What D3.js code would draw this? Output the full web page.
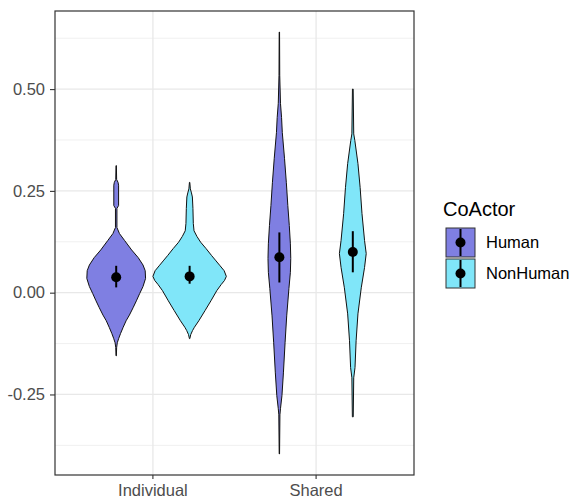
<!DOCTYPE html>
<html><head><meta charset="utf-8">
<script src="https://cdn.jsdelivr.net/npm/d3@7"></script>
<style>body{margin:0;background:#fff} svg text{font-family:"Liberation Sans",Arial,sans-serif}</style>
</head><body><svg id="c" width="574" height="502"></svg>
<script>
// ---- data ----
const categories = ["Individual", "Shared"];
const coActors = ["Human", "NonHuman"];
const fills = ["#7f7fe2", "#80e6f9"];
const yTicks = [-0.25, 0, 0.25, 0.5];
const yTickLabels = ["-0.25", "0.00", "0.25", "0.50"];
const yMinorTicks = [-0.375, -0.125, 0.125, 0.375, 0.625];

// violin profiles: [value, relative density]
const violinIndividualHuman = [
  [0.312,0.005],[0.278,0.012],[0.271,0.05],[0.264,0.065],[0.214,0.065],[0.207,0.02],
  [0.160,0.02],[0.145,0.09],[0.128,0.23],[0.105,0.42],[0.086,0.6],[0.068,0.73],
  [0.054,0.79],[0.035,0.8],[0.015,0.73],[-0.002,0.64],[-0.02,0.55],[-0.037,0.46],
  [-0.055,0.36],[-0.069,0.27],[-0.085,0.19],[-0.10,0.12],[-0.112,0.07],[-0.123,0.03],
  [-0.135,0.012],[-0.155,0.005]
];
const violinIndividualNonHuman = [
  [0.271,0.005],[0.255,0.02],[0.245,0.05],[0.235,0.075],[0.207,0.09],[0.17,0.1],
  [0.152,0.12],[0.138,0.2],[0.124,0.3],[0.108,0.45],[0.091,0.6],[0.078,0.72],
  [0.066,0.83],[0.054,0.94],[0.040,1.0],[0.030,0.95],[0.020,0.86],[0.005,0.74],
  [-0.02,0.58],[-0.044,0.42],[-0.069,0.25],[-0.085,0.13],[-0.093,0.08],[-0.103,0.03],
  [-0.113,0.005]
];
const violinSharedHuman = [
  [0.64,0.005],[0.534,0.01],[0.465,0.03],[0.43,0.06],[0.393,0.08],[0.33,0.14],
  [0.27,0.19],[0.214,0.23],[0.165,0.27],[0.12,0.3],[0.084,0.31],[0.05,0.3],
  [0.01,0.26],[-0.057,0.2],[-0.123,0.155],[-0.197,0.11],[-0.253,0.07],[-0.285,0.03],
  [-0.30,0.015],[-0.396,0.005]
];
const violinSharedNonHuman = [
  [0.50,0.01],[0.39,0.025],[0.374,0.055],[0.317,0.14],[0.258,0.2],[0.194,0.25],
  [0.128,0.32],[0.096,0.365],[0.062,0.32],[0.012,0.23],[-0.052,0.14],[-0.118,0.09],
  [-0.184,0.06],[-0.209,0.025],[-0.305,0.012]
];
const groupCategory = ["Individual", "Individual", "Shared", "Shared"];
const groupCoActor = ["Human", "NonHuman", "Human", "NonHuman"];
const groupViolins = [violinIndividualHuman, violinIndividualNonHuman, violinSharedHuman, violinSharedNonHuman];
const pointMean = [0.038, 0.040, 0.087, 0.100];
const pointLow = [0.013, 0.022, 0.025, 0.050];
const pointHigh = [0.066, 0.066, 0.148, 0.151];

// ---- layout ----
const svg = d3.select("#c");
const L = 55, R = 414, T = 11, B = 475;

const allVals = groupViolins.flat().map(d => d[0]);
const yMin = d3.min(allVals), yMax = d3.max(allVals), pad = (yMax - yMin) * 0.05;
const y = d3.scaleLinear().domain([yMin - pad, yMax + pad]).range([B, T]);
const x = d3.scaleBand().domain(categories).range([L, R]).paddingInner(0).paddingOuter(0.1);
const step = x.step();
const x1 = d3.scaleBand().domain(coActors).range([0, 0.9 * step]);
const w = d3.scaleLinear().domain([0, 1]).range([0, x1.bandwidth() / 2]);
const color = d3.scaleOrdinal().domain(coActors).range(fills);
const cxOf = i => x(groupCategory[i]) + x.bandwidth() / 2 - 0.45 * step + x1(groupCoActor[i]) + x1.bandwidth() / 2;

// grid
const grid = svg.append("g");
grid.selectAll(".ymin").data(yMinorTicks).join("line")
  .attr("x1", L).attr("x2", R).attr("y1", d => y(d)).attr("y2", d => y(d))
  .attr("stroke", "#f0f0f0").attr("stroke-width", 1);
grid.selectAll(".ymaj").data(yTicks).join("line")
  .attr("x1", L).attr("x2", R).attr("y1", d => y(d)).attr("y2", d => y(d))
  .attr("stroke", "#e8e8e8").attr("stroke-width", 1.3);
grid.selectAll(".xmaj").data(categories).join("line")
  .attr("y1", T).attr("y2", B).attr("x1", d => x(d) + x.bandwidth() / 2).attr("x2", d => x(d) + x.bandwidth() / 2)
  .attr("stroke", "#e8e8e8").attr("stroke-width", 1.3);

// violins
const area = (cx) => d3.area().y(d => y(d[0])).x0(d => cx - w(d[1])).x1(d => cx + w(d[1])).curve(d3.curveLinear);
groupViolins.forEach((v, i) => {
  const cx = cxOf(i);
  svg.append("path").datum(v).attr("d", area(cx))
    .attr("fill", color(groupCoActor[i])).attr("stroke", "#111").attr("stroke-width", 1);
});

// pointranges
pointMean.forEach((m, i) => {
  const cx = cxOf(i);
  svg.append("line").attr("x1", cx).attr("x2", cx).attr("y1", y(pointLow[i])).attr("y2", y(pointHigh[i]))
    .attr("stroke", "#000").attr("stroke-width", 2);
  svg.append("circle").attr("cx", cx).attr("cy", y(m)).attr("r", 5).attr("fill", "#000");
});

// panel border
svg.append("rect").attr("x", L).attr("y", T).attr("width", R - L).attr("height", B - T)
  .attr("fill", "none").attr("stroke", "#333").attr("stroke-width", 1.2);

// axes
const yAxis = svg.append("g").attr("transform", `translate(${L},0)`)
  .call(d3.axisLeft(y).tickValues(yTicks).tickSize(5).tickPadding(5).tickFormat((d, i) => yTickLabels[i]));
const xAxis = svg.append("g").attr("transform", `translate(0,${B})`)
  .call(d3.axisBottom(x).tickSize(4).tickPadding(5));
[yAxis, xAxis].forEach(a => {
  a.select(".domain").remove();
  a.selectAll("line").attr("stroke", "#333").attr("stroke-width", 1.1);
  a.selectAll("text").attr("fill", "#4d4d4d").style("font-size", "16.5px")
    .style("font-family", '"Liberation Sans",Arial,sans-serif');
});

// legend
const lg = svg.append("g");
lg.append("text").attr("x", 443).attr("y", 216).text("CoActor")
  .style("font-size", "20px").attr("fill", "#000");
coActors.forEach((c, i) => {
  const ky = 228 + i * 31, kx = 446, ks = 29;
  lg.append("rect").attr("x", kx).attr("y", ky).attr("width", ks).attr("height", ks)
    .attr("fill", color(c)).attr("stroke", "#333").attr("stroke-width", 1);
  lg.append("line").attr("x1", kx + ks / 2).attr("x2", kx + ks / 2).attr("y1", ky + 1).attr("y2", ky + ks - 1)
    .attr("stroke", "#000").attr("stroke-width", 2);
  lg.append("circle").attr("cx", kx + ks / 2).attr("cy", ky + ks / 2).attr("r", 5).attr("fill", "#000");
  lg.append("text").attr("x", 486).attr("y", ky + 20).text(c)
    .style("font-size", "16.5px").attr("fill", "#000");
});
</script></body></html>
